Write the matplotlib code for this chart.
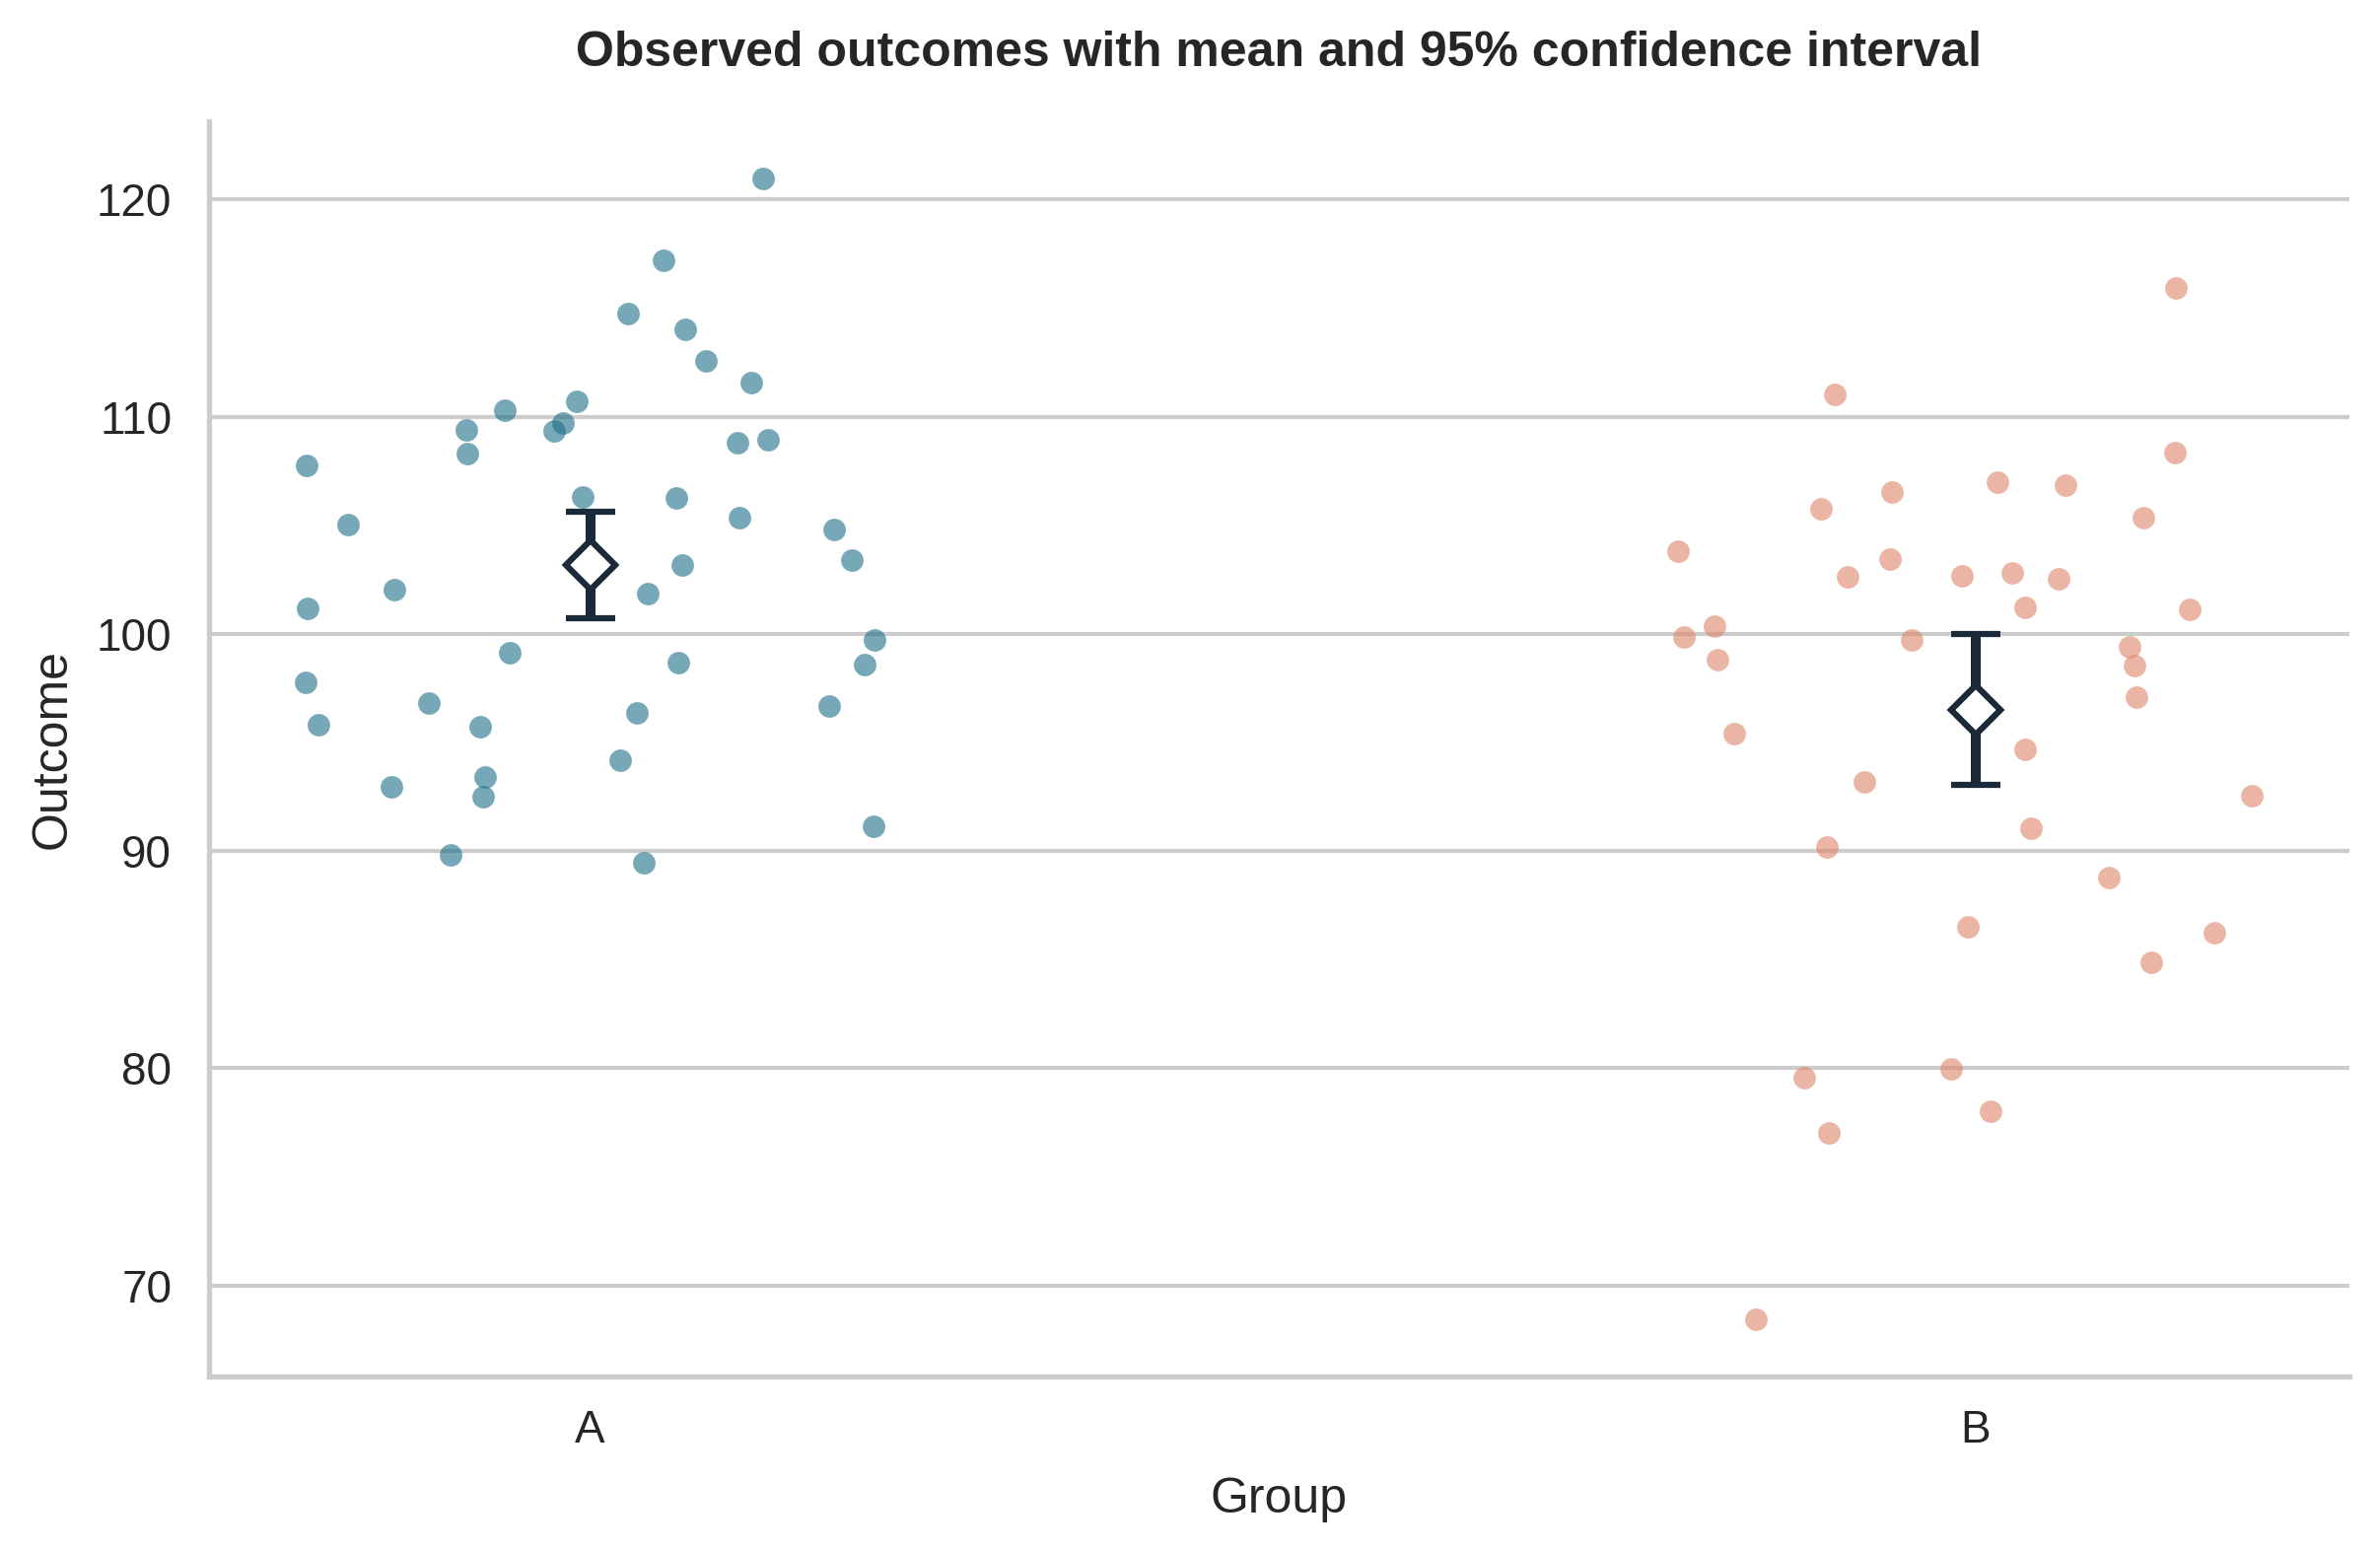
import numpy as np
import matplotlib
matplotlib.use("Agg")
import matplotlib.pyplot as plt

# ---------------- data ----------------
groups = ["A", "B"]

values_A = [120.98, 117.21, 114.77, 114.02, 112.59, 111.59, 110.73, 110.32, 109.39, 109.73,
            109.33, 108.32, 107.77, 108.82, 108.94, 106.33, 106.26, 105.35, 105.05, 104.80,
            103.39, 103.18, 101.84, 102.02, 101.16, 99.71, 98.58, 99.13, 98.68, 97.76,
            96.82, 96.35, 95.84, 95.72, 96.68, 94.19, 92.94, 93.42, 92.51, 91.13,
            89.83, 89.47]
jitter_A = [0.1252, 0.0532, 0.0270, 0.0686, 0.0835, 0.1162, -0.0096, -0.0619, -0.0895, -0.0194,
            -0.0262, -0.0886, -0.2048, 0.1060, 0.1286, -0.0053, 0.0619, 0.1075, -0.1747, 0.1764,
            0.1887, 0.0664, 0.0416, -0.1412, -0.2042, 0.2056, 0.1980, -0.0582, 0.0636, -0.2051,
            -0.1167, 0.0340, -0.1963, -0.0793, 0.1724, 0.0219, -0.1437, -0.0759, -0.0774, 0.2048,
            -0.1007, 0.0388]

values_B = [115.92, 111.03, 108.34, 106.98, 106.85, 106.55, 105.78, 105.37, 103.80, 103.44,
            102.62, 102.66, 102.80, 102.56, 101.20, 101.15, 100.34, 99.85, 99.71, 99.41,
            98.55, 98.81, 97.11, 95.40, 94.70, 93.17, 92.54, 91.06, 90.17, 88.78,
            86.50, 86.26, 84.88, 79.54, 79.97, 78.04, 77.01, 68.43]
jitter_B = [0.1449, -0.1012, 0.1440, 0.0156, 0.0652, -0.0605, -0.1116, 0.1216, -0.2149, -0.0617,
            -0.0921, -0.0100, 0.0266, 0.0602, 0.0360, 0.1544, -0.1883, -0.2104, -0.0457, 0.1113,
            0.1145, -0.1862, 0.1160, -0.1741, 0.0357, -0.0800, 0.1995, 0.0404, -0.1074, 0.0962,
            -0.0056, 0.1727, 0.1269, -0.1234, -0.0177, 0.0112, -0.1060, -0.1588]

point_colors = ["#1b6e89", "#df8469"]
summary_color = "#1b2a3a"
text_color = "#262626"

# ---------------- style ----------------
plt.rcParams["font.family"] = ["Liberation Sans", "DejaVu Sans"]
plt.rcParams["text.color"] = text_color
plt.rcParams["axes.labelcolor"] = text_color
plt.rcParams["xtick.color"] = text_color
plt.rcParams["ytick.color"] = text_color


def t_quantile_975(df):
    z = 1.959964
    return (z + (z**3 + z) / (4 * df) + (5 * z**5 + 16 * z**3 + 3 * z) / (96 * df**2)
            + (3 * z**7 + 19 * z**5 + 17 * z**3 - 15 * z) / (384 * df**3))


fig = plt.figure(figsize=(2414 / 300, 1573 / 300), dpi=300)
ax = fig.add_axes([0.0877, 0.1125, 0.987 - 0.0877, 0.9218 - 0.1125])

all_values = [values_A, values_B]
all_jitter = [jitter_A, jitter_B]

for i, (vals, jit) in enumerate(zip(all_values, all_jitter)):
    x = i + np.asarray(jit)
    ax.scatter(x, vals, s=30, color=point_colors[i], alpha=0.6, linewidths=0, zorder=2)

for i, vals in enumerate(all_values):
    v = np.asarray(vals)
    n = len(v)
    m = v.mean()
    se = v.std(ddof=1) / np.sqrt(n)
    h = t_quantile_975(n - 1) * se
    ax.errorbar(i, m, yerr=h, fmt="D", color=summary_color, mfc="white", mec=summary_color,
                ms=8.5, mew=1.5, elinewidth=2.4, capsize=6, capthick=1.3, zorder=4)

ax.set_xticks(range(len(groups)))
ax.set_xticklabels(groups)
ax.set_yticks([70, 80, 90, 100, 110, 120])

ax.set_axisbelow(True)
ax.yaxis.grid(True, color="#cccccc", linewidth=1.0)
ax.xaxis.grid(False)
for side in ["top", "right"]:
    ax.spines[side].set_visible(False)
for side in ["left", "bottom"]:
    ax.spines[side].set_color("#cccccc")
    ax.spines[side].set_linewidth(1.25)

ax.tick_params(axis="x", length=0, pad=8, labelsize=11)
ax.tick_params(axis="y", length=0, pad=9, labelsize=11)

ax.set_xlabel("Group", fontsize=12, labelpad=6)
ax.set_ylabel("Outcome", fontsize=12, labelpad=5)
ax.set_title("Observed outcomes with mean and 95% confidence interval",
             fontsize=12, fontweight="bold", pad=13.5)

fig.savefig("out.png", dpi=300, facecolor="white")
